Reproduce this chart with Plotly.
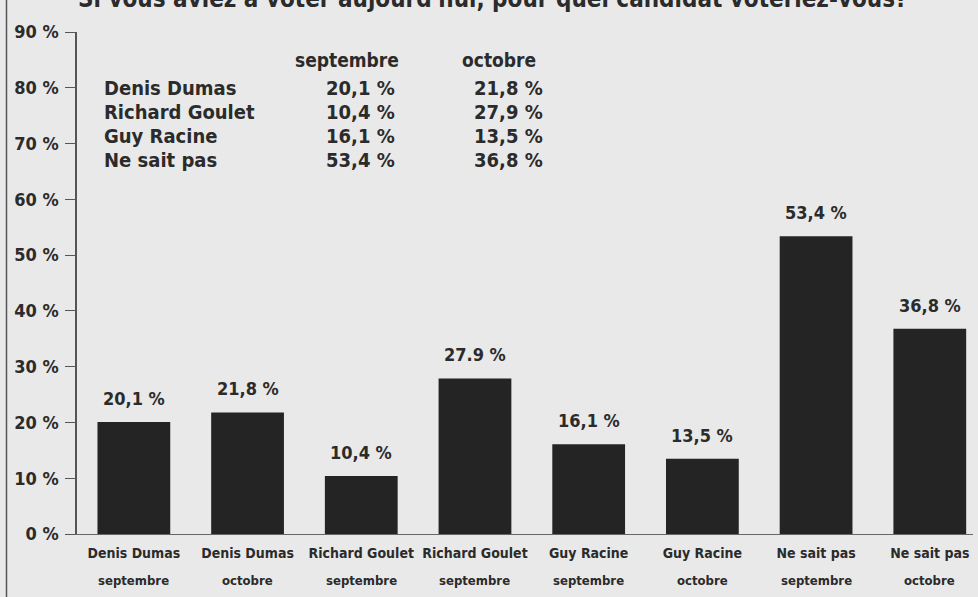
import plotly.graph_objects as go

# ---- data ----
categories = ["Denis Dumas septembre", "Denis Dumas octobre",
              "Richard Goulet septembre", "Richard Goulet octobre",
              "Guy Racine septembre", "Guy Racine octobre",
              "Ne sait pas septembre", "Ne sait pas octobre"]
values = [20.1, 21.8, 10.4, 27.9, 16.1, 13.5, 53.4, 36.8]
value_labels = ["20,1 %", "21,8 %", "10,4 %", "27.9 %", "16,1 %", "13,5 %", "53,4 %", "36,8 %"]
tick_names = ["Denis Dumas", "Denis Dumas", "Richard Goulet", "Richard Goulet",
              "Guy Racine", "Guy Racine", "Ne sait pas", "Ne sait pas"]
tick_months = ["septembre", "octobre", "septembre", "septembre",
               "septembre", "octobre", "septembre", "octobre"]
y_ticks = [0, 10, 20, 30, 40, 50, 60, 70, 80, 90]

table_header = ["septembre", "octobre"]
table_names = ["Denis Dumas", "Richard Goulet", "Guy Racine", "Ne sait pas"]
table_sept = ["20,1 %", "10,4 %", "16,1 %", "53,4 %"]
table_oct = ["21,8 %", "27,9 %", "13,5 %", "36,8 %"]

title = "Si vous aviez à voter aujourd'hui, pour quel candidat voteriez-vous?"

# ---- style ----
FONT = "DejaVu Sans Condensed, Liberation Sans Narrow, Arial Narrow, sans-serif"
INK = "#2b2b2b"
BG = "#e9e9e9"
W, H = 978, 597
ML, MR, MT, MB = 77, 5, 32, 63
PW, PH = W - ML - MR, H - MT - MB


def px(x):
    return (x - ML) / PW


def py(y):
    return (H - MB - y) / PH


fig = go.Figure(go.Bar(
    x=categories, y=values,
    marker=dict(color="#242424", line=dict(width=0)),
    hoverinfo="skip",
))

ann = []
for c, v, t in zip(categories, values, value_labels):
    ann.append(dict(x=c, y=v, xref="x", yref="y", text="<b>%s</b>" % t,
                    showarrow=False, yanchor="bottom", yshift=11,
                    font=dict(family=FONT, size=18, color=INK)))
for c, m in zip(categories, tick_months):
    ann.append(dict(x=c, y=py(580), xref="x", yref="paper", text="<b>%s</b>" % m,
                    showarrow=False, yanchor="middle",
                    font=dict(family=FONT, size=13, color=INK)))

# inset table
TF = 20
ann.append(dict(x=px(347), y=py(60), xref="paper", yref="paper", text="<b>%s</b>" % table_header[0],
                showarrow=False, xanchor="center", yanchor="middle",
                font=dict(family=FONT, size=19, color=INK)))
ann.append(dict(x=px(499), y=py(60), xref="paper", yref="paper", text="<b>%s</b>" % table_header[1],
                showarrow=False, xanchor="center", yanchor="middle",
                font=dict(family=FONT, size=19, color=INK)))
row_y = [88, 112, 136, 160]
for yy, n, s, o in zip(row_y, table_names, table_sept, table_oct):
    ann.append(dict(x=px(102), y=py(yy), xref="paper", yref="paper", text="<b>%s</b>" % n,
                    showarrow=False, xanchor="left", yanchor="middle",
                    font=dict(family=FONT, size=TF, color=INK)))
    ann.append(dict(x=px(397), y=py(yy), xref="paper", yref="paper", text="<b>%s</b>" % s,
                    showarrow=False, xanchor="right", yanchor="middle",
                    font=dict(family=FONT, size=TF, color=INK)))
    ann.append(dict(x=px(545), y=py(yy), xref="paper", yref="paper", text="<b>%s</b>" % o,
                    showarrow=False, xanchor="right", yanchor="middle",
                    font=dict(family=FONT, size=TF, color=INK)))

# title (cut at the top like the scan)
ann.append(dict(x=px(493), y=py(-1), xref="paper", yref="paper", text="<b>%s</b>" % title,
                showarrow=False, xanchor="center", yanchor="middle",
                font=dict(family=FONT, size=24, color=INK)))

fig.update_layout(
    width=W, height=H,
    margin=dict(l=ML, r=MR, t=MT, b=MB, autoexpand=False),
    paper_bgcolor=BG, plot_bgcolor=BG,
    showlegend=False,
    bargap=0.36,
    annotations=ann,
    font=dict(family=FONT, color=INK),
    shapes=[dict(type="line", xref="paper", yref="paper",
                 x0=px(6.5), x1=px(6.5), y0=py(597), y1=py(0),
                 line=dict(color="#555555", width=1.5))],
)
fig.update_xaxes(
    type="category", range=[-0.5, 7.38], automargin=False,
    tickmode="array", tickvals=categories,
    ticktext=["<b>%s</b>" % t for t in tick_names],
    tickfont=dict(family=FONT, size=14, color=INK),
    ticklabelstandoff=6,
    showline=True, linecolor="#666666", linewidth=1.2,
    ticks="", showgrid=False, zeroline=False, fixedrange=True,
)
fig.update_yaxes(
    range=[0, 90], automargin=False, tickmode="array", tickvals=y_ticks,
    ticktext=["<b>%d %%</b>" % v for v in y_ticks],
    tickfont=dict(family=FONT, size=18, color=INK),
    ticks="outside", ticklen=10, tickcolor="#555555", tickwidth=1.2,
    ticklabelstandoff=3,
    showline=True, linecolor="#555555", linewidth=1.5,
    showgrid=False, zeroline=False, fixedrange=True,
)

fig.write_html(
    "out.html",
    config={"displayModeBar": False},
    post_script="document.body.style.margin='0';document.body.style.background='%s';" % BG,
)
